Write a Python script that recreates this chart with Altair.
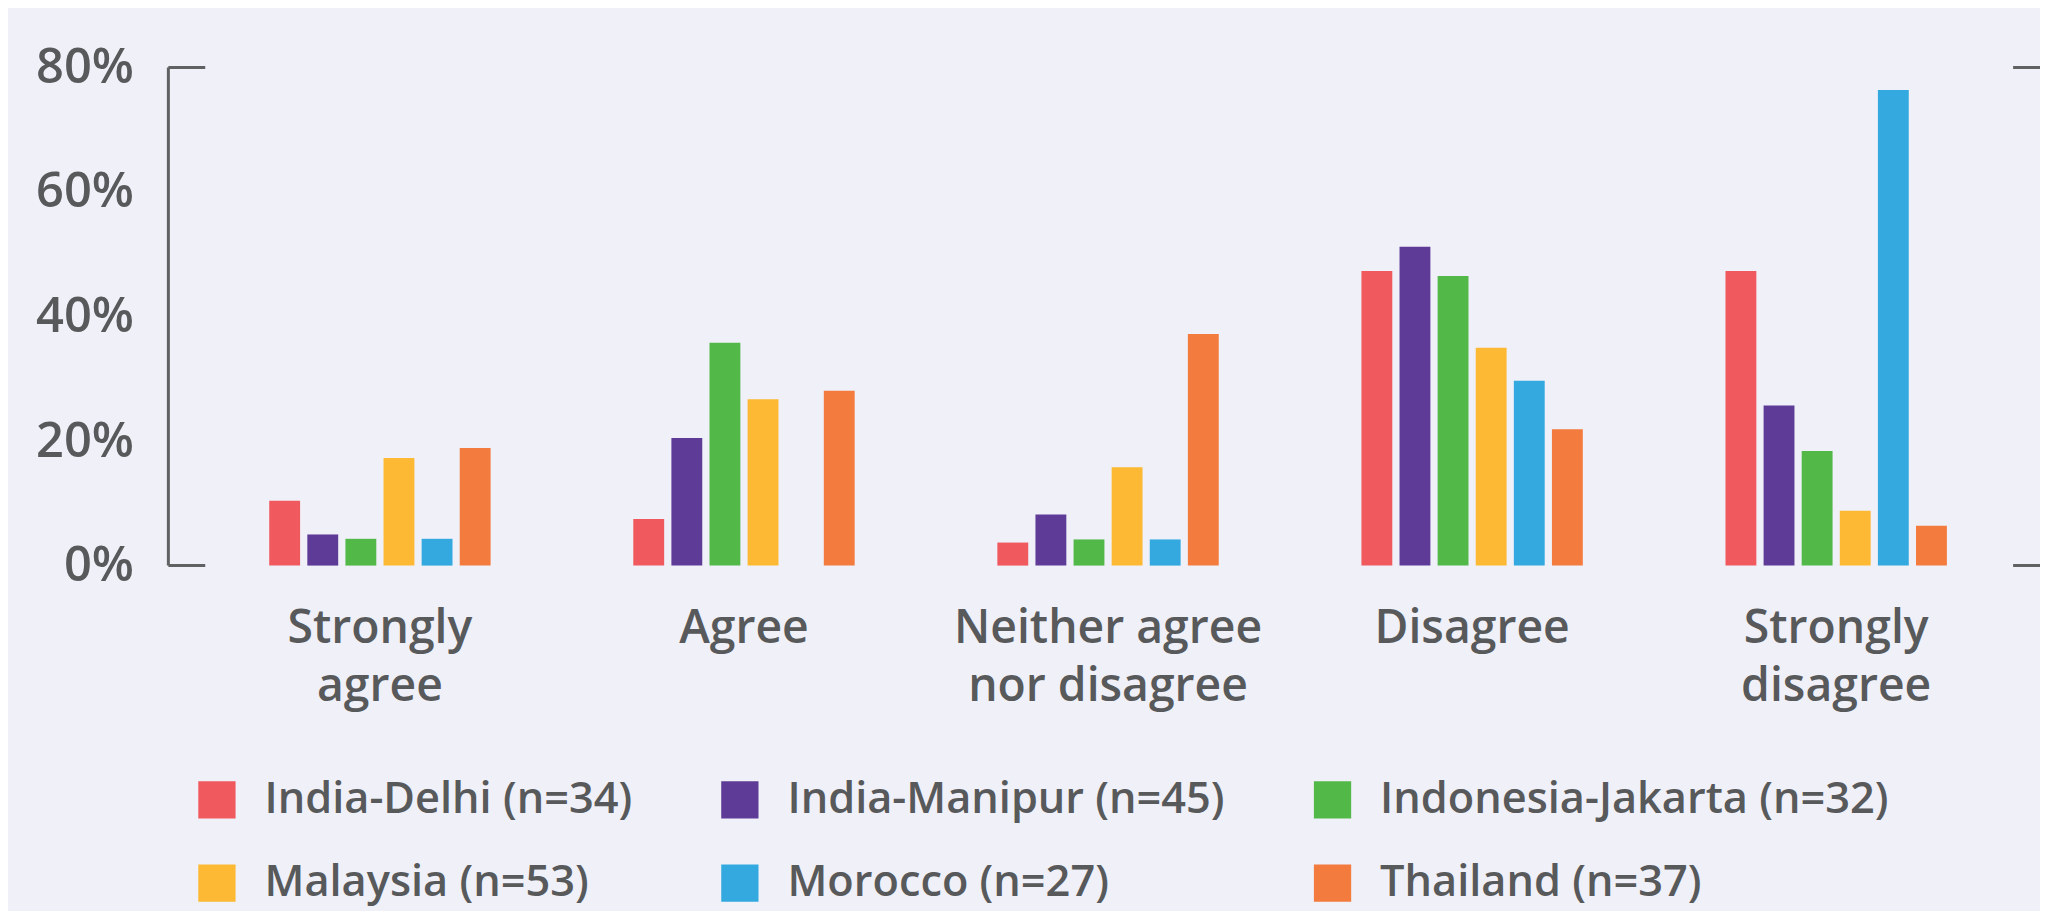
import altair as alt
import pandas as pd

categories = ["Strongly agree", "Agree", "Neither agree nor disagree", "Disagree", "Strongly disagree"]
countries = ["India-Delhi (n=34)", "India-Manipur (n=45)", "Indonesia-Jakarta (n=32)",
             "Malaysia (n=53)", "Morocco (n=27)", "Thailand (n=37)"]
colors = ["#F05A5E", "#5E3B97", "#52B848", "#FDB933", "#33A9E0", "#F47B3E"]

delhi = [10.4, 7.5, 3.7, 47.3, 47.3]
manipur = [5.0, 20.5, 8.2, 51.2, 25.7]
jakarta = [4.3, 35.8, 4.2, 46.5, 18.4]
malaysia = [17.3, 26.7, 15.8, 35.0, 8.8]
morocco = [4.3, None, 4.2, 29.7, 76.4]
thailand = [18.9, 28.1, 37.2, 21.9, 6.4]
series = [delhi, manipur, jakarta, malaysia, morocco, thailand]

y_ticks = [0, 20, 40, 60, 80]
bracket_ends = [0, 80]

rows = []
for c, vals in zip(countries, series):
    for cat, v in zip(categories, vals):
        if v is not None:
            rows.append({"category": cat, "country": c, "value": v})
df = pd.DataFrame(rows)

TEXT = "#58595B"
LINE = "#606163"
FONT = "Open Sans"
W, H = 1871, 500

y_axis = alt.Axis(title=None, values=y_ticks, ticks=False, domain=False, grid=False,
                  labelFont=FONT, labelFontSize=49, labelFontWeight=600,
                  labelColor=TEXT, labelPadding=35, labelExpr="datum.value + '%'")
y_scale = alt.Scale(domain=[0, 80], nice=False)

bars = alt.Chart(df).mark_bar().encode(
    x=alt.X("category:N", sort=categories,
            scale=alt.Scale(paddingInner=0.371, paddingOuter=0.245, align=0.544),
            axis=alt.Axis(title=None, ticks=False, domain=False, labelAngle=0,
                          labelFont=FONT, labelFontSize=46.5, labelFontWeight=600,
                          labelColor=TEXT, labelPadding=40, labelLineHeight=58.5,
                          labelLimit=1000,
                          labelExpr="datum.label == 'Neither agree nor disagree' ? ['Neither agree', 'nor disagree'] : split(datum.label, ' ')")),
    xOffset=alt.XOffset("country:N", sort=countries,
                        scale=alt.Scale(domain=countries, paddingInner=0.19, paddingOuter=0.1)),
    y=alt.Y("value:Q", scale=y_scale, axis=y_axis),
    color=alt.Color("country:N", sort=countries,
                    scale=alt.Scale(domain=countries, range=colors),
                    legend=alt.Legend(title=None, orient="none", legendX=27, legendY=713,
                                      columns=3, direction="horizontal",
                                      symbolType="square", symbolSize=1400,
                                      symbolStrokeWidth=0, symbolOpacity=1,
                                      labelFont=FONT, labelFontSize=43.5, labelFontWeight=600,
                                      labelColor=TEXT, labelOffset=26, labelLimit=1000,
                                      columnPadding=86, rowPadding=39, padding=0)),
)

vline = alt.Chart(pd.DataFrame({"lo": [bracket_ends[0]], "hi": [bracket_ends[1]]})).mark_rule(
    color=LINE, strokeWidth=3).encode(
    y=alt.Y("lo:Q", scale=y_scale, axis=y_axis), y2="hi:Q", x=alt.value(0))

lticks = alt.Chart(pd.DataFrame({"value": bracket_ends})).mark_rule(
    color=LINE, strokeWidth=3).encode(
    y=alt.Y("value:Q", scale=y_scale, axis=y_axis), x=alt.value(0), x2=alt.value(37))

rticks = alt.Chart(pd.DataFrame({"value": bracket_ends})).mark_rule(
    color=LINE, strokeWidth=3).encode(
    y=alt.Y("value:Q", scale=y_scale, axis=y_axis), x=alt.value(1852), x2=alt.value(1890))

chart = alt.layer(bars, vline, lticks, rticks).properties(
    width=W, height=H,
    autosize=alt.AutoSizeParams(type="none"),
    padding={"left": 161, "top": 58, "right": 8, "bottom": 345},
    background="#EFF0F8",
).configure_view(stroke=None)

chart.save("out.html", embed_options={"renderer": "svg", "actions": False})
